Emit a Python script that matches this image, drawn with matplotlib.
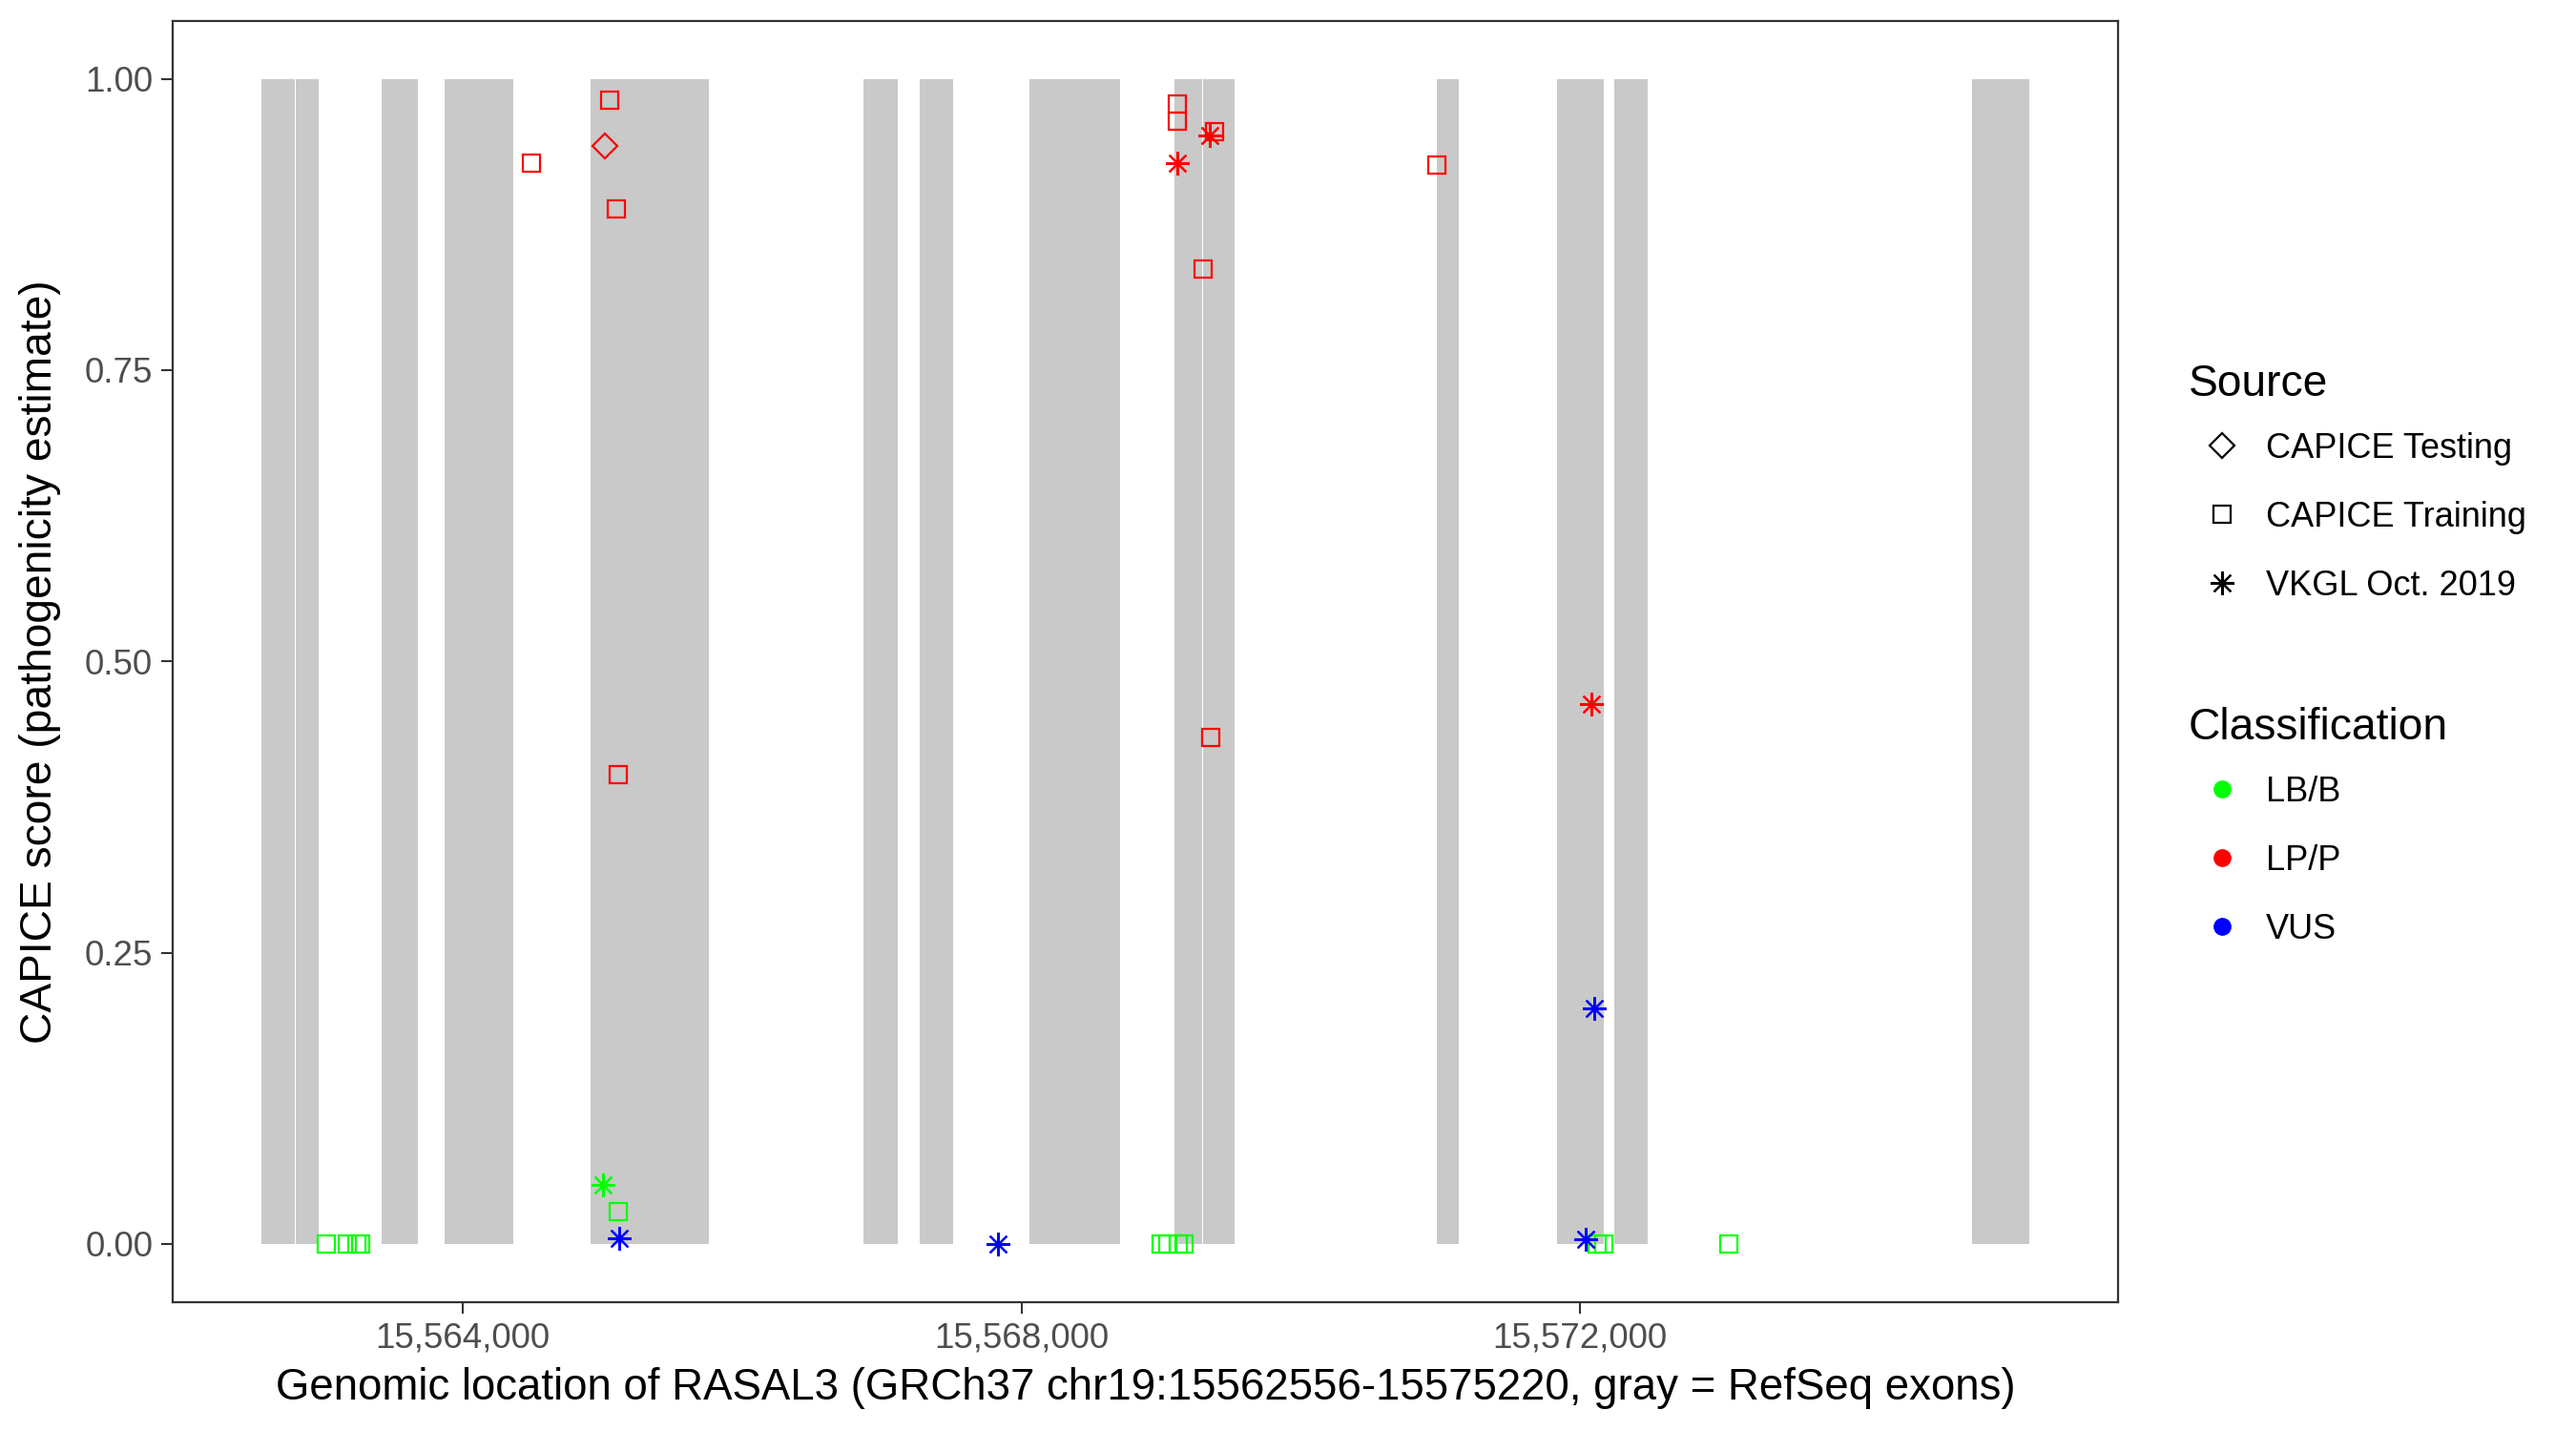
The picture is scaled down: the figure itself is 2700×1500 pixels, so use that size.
import matplotlib
matplotlib.use("Agg")
import matplotlib.pyplot as plt
from matplotlib.lines import Line2D
from matplotlib.ticker import FuncFormatter

plt.rcParams["font.family"] = ["Liberation Sans", "DejaVu Sans"]

# RefSeq exons of RASAL3 (bp)
exon_start = [15562556, 15562804, 15563420, 15563872, 15564914, 15566869, 15567272,
              15568059, 15569096, 15569300, 15570975, 15571837, 15572246, 15574808]
exon_end = [15562798, 15562968, 15563679, 15564362, 15565763, 15567117, 15567513,
            15568708, 15569294, 15569525, 15571133, 15572169, 15572484, 15575220]

# CAPICE Training variants
train_pos = [15565049, 15564493, 15565097, 15565110, 15563020, 15563173, 15563242,
             15563269, 15565110, 15569114, 15569114, 15569383, 15569303, 15570977,
             15569356, 15569001, 15569047, 15569123, 15569163, 15572123, 15572170,
             15573069]
train_score = [0.982, 0.928, 0.888, 0.403, 0.0, 0.0, 0.0,
               0.0, 0.028, 0.978, 0.964, 0.955, 0.837, 0.926,
               0.435, 0.0, 0.0, 0.0, 0.0, 0.0, 0.0,
               0.0]
train_cls = ["LP/P", "LP/P", "LP/P", "LP/P", "LB/B", "LB/B", "LB/B",
             "LB/B", "LB/B", "LP/P", "LP/P", "LP/P", "LP/P", "LP/P",
             "LP/P", "LB/B", "LB/B", "LB/B", "LB/B", "LB/B", "LB/B",
             "LB/B"]

# CAPICE Testing variants
test_pos = [15565021]
test_score = [0.942]
test_cls = ["LP/P"]

# VKGL Oct. 2019 variants
vkgl_pos = [15565003, 15565118, 15569346, 15569114, 15567830, 15572081, 15572103, 15572038]
vkgl_score = [0.051, 0.005, 0.951, 0.928, 0.0, 0.463, 0.202, 0.004]
vkgl_cls = ["LB/B", "VUS", "LP/P", "LP/P", "VUS", "LP/P", "VUS", "VUS"]

x_ticks = [15564000, 15568000, 15572000]
y_ticks = [0.0, 0.25, 0.5, 0.75, 1.0]
gene_start, gene_end = 15562556, 15575220

cls_colors = {"LB/B": "#00FF00", "LP/P": "#FF0000", "VUS": "#0000FF"}
source_markers = {"CAPICE Testing": "D", "CAPICE Training": "s", "VKGL Oct. 2019": (8, 2, 0)}
marker_sizes = {"CAPICE Testing": 13, "CAPICE Training": 13, "VKGL Oct. 2019": 18}

fig = plt.figure(figsize=(27, 15), dpi=100)
ax = fig.add_axes([181 / 2700, 1 - 1365 / 1500, (2220 - 181) / 2700, (1365 - 21.5) / 1500])

for s, e in zip(exon_start, exon_end):
    ax.axvspan(s, e, ymin=0.05 / 1.1, ymax=1.05 / 1.1, color="#C9C9C9", lw=0, zorder=1)


def draw_points(pos, score, cls, source):
    for p, v, c in zip(pos, score, cls):
        ax.plot(p, v, linestyle="none", marker=source_markers[source],
                markersize=marker_sizes[source], markerfacecolor="none",
                markeredgecolor=cls_colors[c], markeredgewidth=1.6, zorder=3)


draw_points(train_pos, train_score, train_cls, "CAPICE Training")
draw_points(test_pos, test_score, test_cls, "CAPICE Testing")
draw_points(vkgl_pos, vkgl_score, vkgl_cls, "VKGL Oct. 2019")

span = gene_end - gene_start
ax.set_xlim(gene_start - 0.05 * span, gene_end + 0.05 * span)
ax.set_ylim(-0.05, 1.05)
ax.set_xticks(x_ticks)
ax.set_yticks(y_ticks)
ax.xaxis.set_major_formatter(FuncFormatter(lambda v, _: f"{int(v):,}"))
ax.yaxis.set_major_formatter(FuncFormatter(lambda v, _: f"{v:.2f}"))
ax.tick_params(labelsize=26.5, labelcolor="#4D4D4D", color="#333333",
               length=8.5, width=1.5, pad=6.5)
for sp in ax.spines.values():
    sp.set_color("#333333")
    sp.set_linewidth(1.6)

ax.set_xlabel("Genomic location of RASAL3 (GRCh37 chr19:15562556-15575220, gray = RefSeq exons)",
              fontsize=32.9, labelpad=9)
ax.set_ylabel("CAPICE score (pathogenicity estimate)", fontsize=33.2, labelpad=18)

# legends
leg_kw = dict(loc="upper left", frameon=False, borderpad=0, borderaxespad=0,
              fontsize=26, title_fontsize=33.2, handlelength=1.94, handletextpad=0.3,
              labelspacing=1.03)

src_handles = [Line2D([], [], linestyle="none", marker=source_markers[k], markersize=marker_sizes[k],
                      markerfacecolor="none", markeredgecolor="black", markeredgewidth=1.6)
               for k in source_markers]
leg1 = fig.legend(src_handles, list(source_markers), title="Source",
                  bbox_to_anchor=(2294 / 2700, 1 - 381 / 1500), **leg_kw)
leg1._legend_box.align = "left"
leg1._legend_box.sep = 19.8

cls_handles = [Line2D([], [], linestyle="none", marker="o", markersize=13.5,
                      markerfacecolor=cls_colors[k], markeredgecolor="none")
               for k in cls_colors]
leg2 = fig.legend(cls_handles, list(cls_colors), title="Classification",
                  bbox_to_anchor=(2294 / 2700, 1 - 741 / 1500), **leg_kw)
leg2._legend_box.align = "left"
leg2._legend_box.sep = 19.8

fig.savefig("out.png", dpi=100)
